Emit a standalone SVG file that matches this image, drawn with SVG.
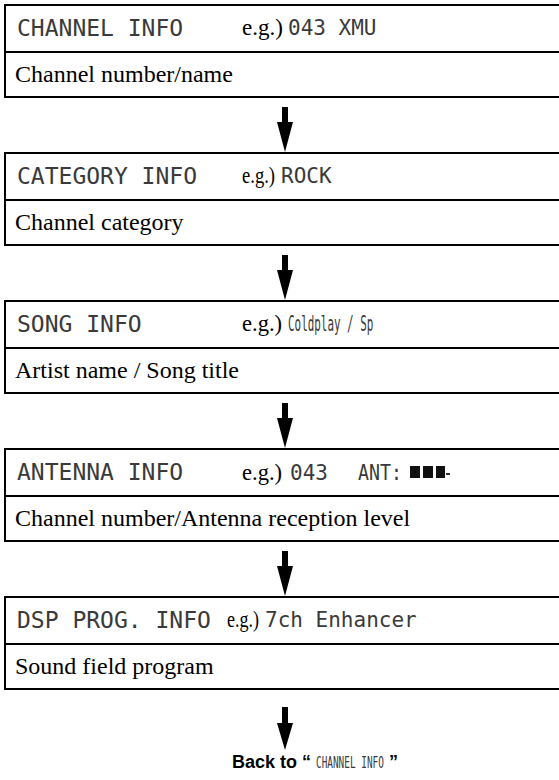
<svg xmlns="http://www.w3.org/2000/svg" width="559" height="780" viewBox="0 0 559 780">
<style>
.bx{fill:none;stroke:#000;stroke-width:2}
.lcd{font-family:"DejaVu Sans Mono","Liberation Mono",monospace;font-size:23px;fill:#3a3a3a}
.lcds{font-family:"DejaVu Sans Mono","Liberation Mono",monospace;font-size:21px;fill:#3a3a3a}
.sf{font-family:"Liberation Serif","Times New Roman",serif;font-size:24px;fill:#000}
.arr{fill:#000}
.bk{font-family:"Liberation Sans",Arial,sans-serif;font-size:18px;font-weight:bold;fill:#000}
</style>
<rect width="559" height="780" fill="#fff"/>
<g id="node-channel-info">
<path class="bx" d="M559,5 H5 V97 H559 M5,52 H559"/>
<text class="lcd" x="17" y="36">CHANNEL INFO</text>
<text class="sf" transform="translate(242,35) scale(0.96,1)">e.g.)</text>
<text class="lcds" x="288" y="35">043 XMU</text>
<text class="sf" x="15" y="82">Channel number/name</text>
</g>
<g id="node-category-info">
<path class="bx" d="M559,153 H5 V245 H559 M5,200 H559"/>
<text class="lcd" x="17" y="184">CATEGORY INFO</text>
<text class="sf" transform="translate(242,183) scale(0.775,1)">e.g.)</text>
<text class="lcds" x="281" y="183">ROCK</text>
<text class="sf" x="15" y="230">Channel category</text>
</g>
<g id="node-song-info">
<path class="bx" d="M559,301 H5 V393 H559 M5,348 H559"/>
<text class="lcd" x="17" y="332">SONG INFO</text>
<text class="sf" transform="translate(242,331) scale(0.94,1)">e.g.)</text>
<text class="lcds" transform="translate(288,331) scale(0.52,1)">Coldplay / Sp</text>
<text class="sf" x="15" y="378">Artist name / Song title</text>
</g>
<g id="node-antenna-info">
<path class="bx" d="M559,449 H5 V541 H559 M5,496 H559"/>
<text class="lcd" x="17" y="480">ANTENNA INFO</text>
<text class="sf" transform="translate(242,480) scale(0.94,1)">e.g.)</text>
<text class="lcds" x="290" y="480">043</text>
<text class="lcds" transform="translate(358,480) scale(0.87,1)">ANT:</text>
<rect x="410" y="466" width="10" height="12" fill="#111"/>
<rect x="423" y="466" width="10" height="12" fill="#111"/>
<rect x="436" y="466" width="9" height="12" fill="#111"/>
<rect x="446" y="473" width="4" height="2" fill="#333"/>
<text class="sf" x="15" y="526">Channel number/Antenna reception level</text>
</g>
<g id="node-dsp-prog-info">
<path class="bx" d="M559,597 H5 V689 H559 M5,644 H559"/>
<text class="lcd" x="17" y="628">DSP PROG. INFO</text>
<text class="sf" transform="translate(227,627) scale(0.75,1)">e.g.)</text>
<text class="lcds" x="265" y="627">7ch Enhancer</text>
<text class="sf" x="15" y="674">Sound field program</text>
</g>
<g id="node-back">
<text class="bk" x="232" y="768">Back to “</text>
<text class="lcds" style="font-size:15px" transform="translate(316,768) scale(0.627,1)">CHANNEL INFO</text>
<text class="bk" x="389" y="768">”</text>
</g>
<g id="connectors">
<path class="arr" d="M282,107 H288 V122 H293 L285,152 L277,122 H282 Z"/>
<path class="arr" d="M282,255 H288 V270 H293 L285,300 L277,270 H282 Z"/>
<path class="arr" d="M282,403 H288 V418 H293 L285,448 L277,418 H282 Z"/>
<path class="arr" d="M282,551 H288 V566 H293 L285,596 L277,566 H282 Z"/>
<path class="arr" d="M282,707 H288 V723 H293 L285,750 L277,723 H282 Z"/>
</g>
</svg>
